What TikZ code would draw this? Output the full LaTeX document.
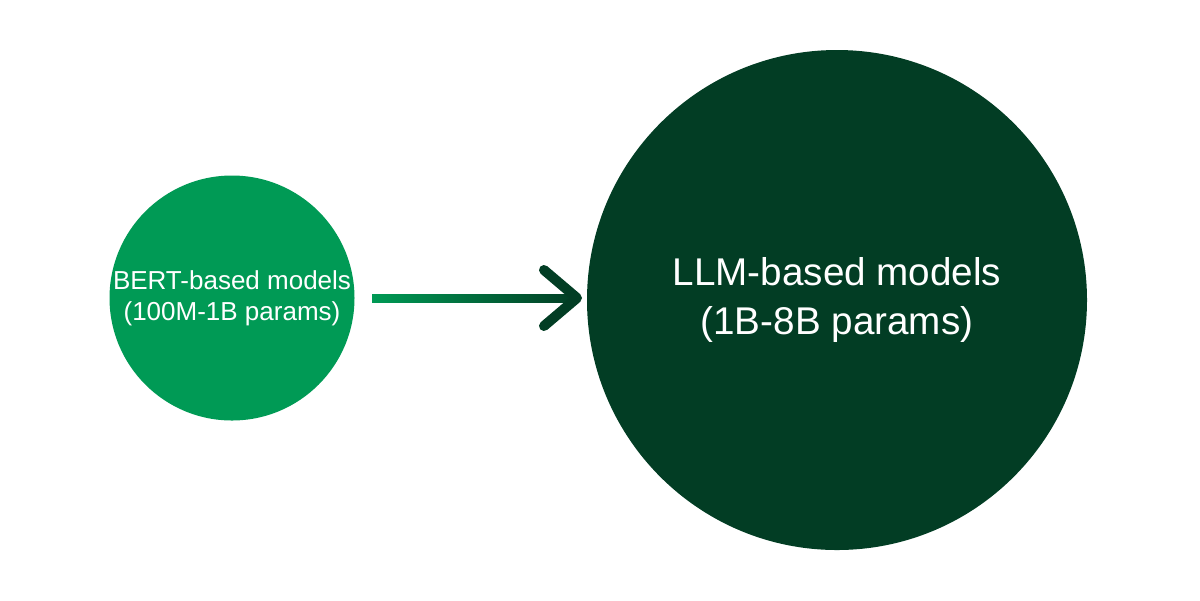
\documentclass[tikz,border=0pt]{standalone}
\usepackage{fontspec}
\setmainfont{Liberation Sans}
\definecolor{lg}{HTML}{009A55}
\definecolor{dg}{HTML}{023D24}
\tikzset{circ/.style={circle,text=white,align=center,inner sep=0pt}}
\begin{document}
\begin{tikzpicture}[x=0.02cm,y=-0.02cm]
\useasboundingbox (0,0) rectangle (1200,600);
\node[circ,fill=lg,minimum size=245*0.02cm,font=\fontsize{14.8}{17.5}\selectfont] (a) at (232,298) {BERT-based models\\(100M-1B params)};
\node[circ,fill=dg,minimum size=500*0.02cm,font=\fontsize{22}{28}\selectfont] (b) at (837,300) {LLM-based models\\(1B-8B params)};
\shade[left color=lg,right color=dg] (372,294) rectangle (576,302);
\coordinate (tip) at (577,298);
\draw[dg,line width=10*0.02cm,line cap=round,line join=round] (544,270) -- (tip) -- (544,326);
\end{tikzpicture}
\end{document}
